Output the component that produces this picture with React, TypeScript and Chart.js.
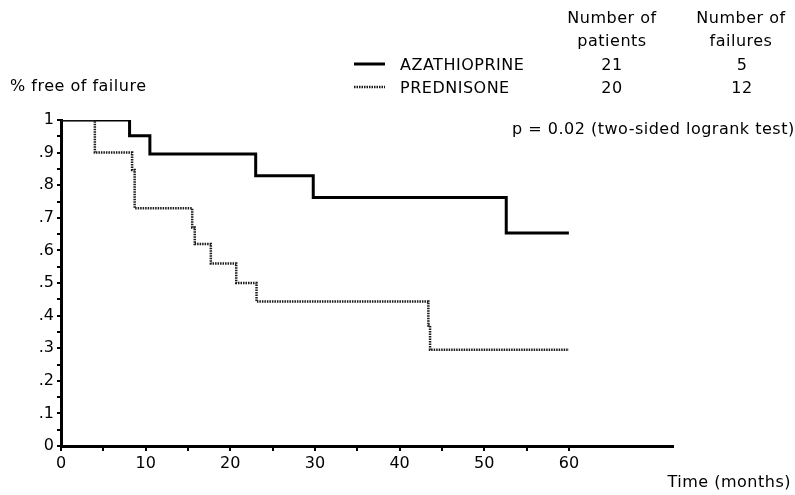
import React, { useEffect, useRef } from 'react';
import { Chart, registerables } from 'chart.js';

Chart.register(...registerables);

// Kaplan-Meier step data (time in months, fraction free of failure)
const azaTimes = [0, 8.1, 10.5, 23.0, 29.8, 52.6, 60];
const azaSurv = [1, 0.952, 0.896, 0.829, 0.762, 0.653, 0.653];
const predTimes = [0, 4.0, 8.4, 8.7, 15.5, 15.8, 17.7, 20.7, 23.1, 43.4, 43.6, 60];
const predSurv = [1, 0.9, 0.847, 0.729, 0.67, 0.62, 0.56, 0.5, 0.443, 0.37, 0.295, 0.295];

const seriesNames = ['AZATHIOPRINE', 'PREDNISONE'];
const patients = ['21', '20'];
const failures = ['5', '12'];
const colHeaders1 = ['Number of', 'patients'];
const colHeaders2 = ['Number of', 'failures'];
const yTitle = '% free of failure';
const xTitle = 'Time (months)';
const pText = 'p = 0.02 (two-sided logrank test)';
const xLabelMax = 60;

const FONT = '"DejaVu Sans", "Liberation Sans", sans-serif';

function toPoints(t: number[], s: number[]) {
  return t.map((x, i) => ({ x, y: s[i] }));
}

const annotations = {
  id: 'annotations',
  afterDraw(chart: any) {
    const ctx = chart.ctx as CanvasRenderingContext2D;
    ctx.save();
    ctx.fillStyle = '#000';
    ctx.font = `16px ${FONT}`;
    (ctx as any).letterSpacing = '0.5px';
    ctx.textBaseline = 'middle';

    // column headers
    ctx.textAlign = 'center';
    ctx.fillText(colHeaders1[0], 612, 19);
    ctx.fillText(colHeaders1[1], 612, 42);
    ctx.fillText(colHeaders2[0], 741, 19);
    ctx.fillText(colHeaders2[1], 741, 42);

    const rows = [66, 89];
    chart.data.datasets.forEach((ds: any) => {
      const idx = seriesNames.indexOf(ds.label);
      const y = rows[idx];
      ctx.save();
      ctx.strokeStyle = ds.borderColor;
      ctx.lineWidth = ds.borderWidth;
      ctx.setLineDash(ds.borderDash || []);
      ctx.beginPath();
      ctx.moveTo(354, y - 2);
      ctx.lineTo(385, y - 2);
      ctx.stroke();
      ctx.restore();
      ctx.textAlign = 'left';
      ctx.fillText(ds.label, 400, y);
      ctx.textAlign = 'center';
      ctx.fillText(patients[idx], 612, y);
      ctx.fillText(failures[idx], 742, y);
    });

    ctx.textAlign = 'left';
    ctx.fillText(yTitle, 10, 87);
    ctx.fillText(pText, 512, 130);
    ctx.textAlign = 'right';
    ctx.fillText(xTitle, 791, 483);
    ctx.restore();
  },
};

export default function App() {
  const ref = useRef<HTMLCanvasElement | null>(null);

  useEffect(() => {
    if (!ref.current) return;
    const chart = new Chart(ref.current, {
      type: 'line',
      data: {
        datasets: [
          {
            label: seriesNames[1],
            data: toPoints(predTimes, predSurv),
            borderColor: '#1a1a1a',
            borderWidth: 2.5,
            borderDash: [1.5, 1],
            stepped: true,
            pointRadius: 0,
            fill: false,
          },
          {
            label: seriesNames[0],
            data: toPoints(azaTimes, azaSurv),
            borderColor: '#000',
            borderWidth: 3,
            stepped: true,
            pointRadius: 0,
            fill: false,
          },
        ],
      },
      options: {
        responsive: false,
        animation: false,
        devicePixelRatio: 1,
        layout: { padding: { left: 0, top: 120, right: 122, bottom: 19 } },
        plugins: { legend: { display: false }, tooltip: { enabled: false } },
        scales: {
          x: {
            type: 'linear',
            min: 0,
            max: 72.3,
            afterFit: (s: any) => { s.height = 30; },
            ticks: {
              stepSize: 5,
              autoSkip: false,
              maxRotation: 0,
              color: '#000',
              padding: 3,
              font: { family: FONT, size: 16 },
              callback: (v: any) => {
                const n = Number(v);
                if (n > xLabelMax) return null;
                return Math.round(n) % 10 === 0 ? String(Math.round(n)) : '';
              },
            },
            grid: { display: true, drawOnChartArea: false, drawTicks: true, tickLength: 5, color: '#000', lineWidth: 2 },
            border: { display: true, color: '#000', width: 3 },
          },
          y: {
            type: 'linear',
            min: 0,
            max: 1,
            afterFit: (s: any) => { s.width = 61; },
            ticks: {
              stepSize: 0.05,
              autoSkip: false,
              color: '#000',
              padding: 3,
              font: { family: FONT, size: 16 },
              callback: (v: any) => {
                const k = Math.round(Number(v) * 100);
                if (k % 10 !== 0) return '';
                if (k === 100) return '1';
                if (k === 0) return '0';
                return '.' + k / 10;
              },
            },
            grid: { display: true, drawOnChartArea: false, drawTicks: true, tickLength: 4, color: '#000', lineWidth: 2 },
            border: { display: true, color: '#000', width: 3 },
          },
        },
      },
      plugins: [annotations],
    });
    return () => chart.destroy();
  }, []);

  return (
    <div style={{ position: 'absolute', left: 0, top: 0, width: 795, height: 495, background: '#fff' }}>
      <canvas ref={ref} width={795} height={495} />
    </div>
  );
}
